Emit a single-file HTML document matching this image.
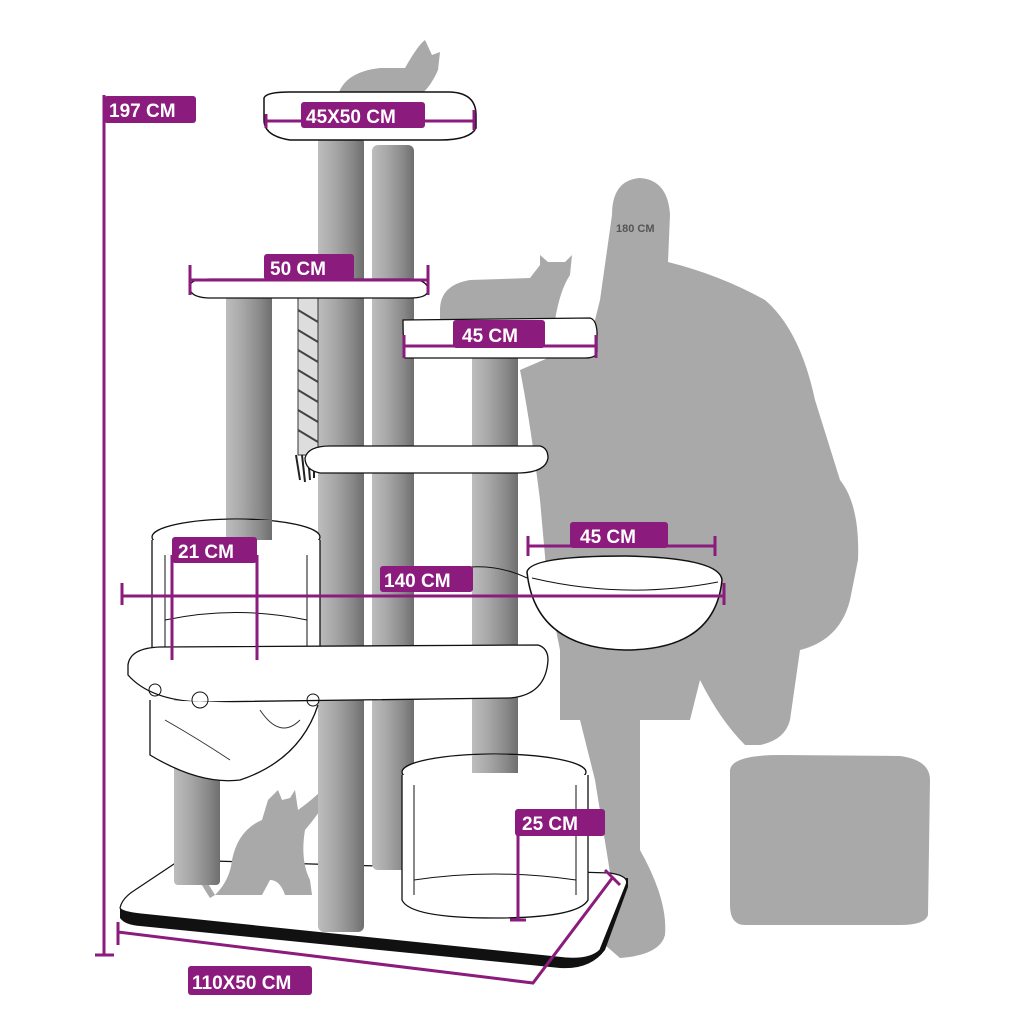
<!DOCTYPE html>
<html><head><meta charset="utf-8"><style>
html,body{margin:0;padding:0;background:#fff}
svg{display:block}
text{font-family:"Liberation Sans",sans-serif;font-weight:bold}
</style></head><body>
<svg width="1025" height="1025" viewBox="0 0 1025 1025" xmlns="http://www.w3.org/2000/svg">
<defs>
<linearGradient id="pg" x1="0" x2="1" y1="0" y2="0">
<stop offset="0" stop-color="#bdbdbd"/><stop offset="0.35" stop-color="#a8a8a8"/><stop offset="0.75" stop-color="#888"/><stop offset="1" stop-color="#6e6e6e"/>
</linearGradient>
</defs>
<g fill="#a9a9a9">
<path d="M612,215 Q612,180 640,178 Q668,180 670,215 L668,262 Q720,275 765,300 Q800,330 815,400 L840,480 Q860,505 858,560 L850,600 Q840,640 800,650 L790,720 Q785,740 760,745 L745,745 Q720,720 700,680 L690,720 L640,720 L640,770 L640,850 Q668,900 665,935 Q660,955 620,958 L605,945 Q615,900 608,860 L595,780 L580,720 L560,720 L560,650 L548,590 L540,500 Q530,420 520,370 L590,340 L600,300 Z"/>
<path d="M730,770 Q732,755 780,755 L900,756 Q930,760 930,780 L928,915 Q925,925 900,925 L745,925 Q730,925 730,905 Z"/>
<path d="M338,95 Q345,72 380,68 L405,68 Q418,45 425,40 L432,55 L440,52 L438,70 Q430,88 420,95 Z"/>
<path d="M440,310 Q440,285 470,280 L530,278 L540,265 L540,255 L548,262 L565,262 L572,255 L570,275 Q560,290 555,320 L440,320 Z"/>
</g>
<text x="616" y="232" font-size="11" fill="#555">180 CM</text>
<!-- base -->
<path d="M120,908 L120,918 Q125,925 140,926 L560,968 Q590,970 605,950 L628,887 L628,878 Z" fill="#111"/>
<path d="M120,908 Q122,898 135,890 L180,860 L610,873 Q630,876 626,885 L600,950 Q590,960 565,958 L140,914 Q122,912 120,908 Z" fill="#fff" stroke="#111" stroke-width="1.2"/>
<!-- bottom cat -->
<g fill="#a9a9a9">
<path d="M215,895 Q230,880 232,860 Q238,830 262,820 L268,800 L278,790 L282,800 L290,798 L295,790 L298,810 Q312,800 322,790 L330,795 Q318,815 305,830 Q300,860 310,880 L312,895 L285,895 Q280,880 270,880 L262,895 Z"/>
<path d="M180,840 Q200,870 215,895 L210,898 Q192,870 178,842 Z"/>
</g>
<!-- posts -->
<rect x="174" y="690" width="46" height="195" rx="4" fill="url(#pg)"/>
<rect x="226" y="295" width="46" height="245" fill="url(#pg)"/>
<rect x="372" y="145" width="42" height="725" rx="6" fill="url(#pg)"/>
<rect x="472" y="355" width="46" height="435" fill="url(#pg)"/>
<rect x="318" y="137" width="46" height="795" rx="6" fill="url(#pg)"/>
<!-- rope -->
<path d="M298,298 L318,298 L318,455 L298,455 Z" fill="#ddd" stroke="#333" stroke-width="1"/>
<path d="M298,310 L318,322 M298,330 L318,342 M298,350 L318,362 M298,370 L318,382 M298,390 L318,402 M298,410 L318,422 M298,430 L318,442" stroke="#444" stroke-width="2"/>
<path d="M296,455 L300,480 M302,455 L305,482 M308,455 L310,480 M314,455 L314,478" stroke="#222" stroke-width="2"/>
<path d="M264,98 Q266,92 290,92 L450,92 Q476,93 476,115 L476,128 Q470,140 440,140 L290,140 Q264,136 264,120 Z" fill="#fff" stroke="#111" stroke-width="1.5"/>
<path d="M190,285 Q192,279 210,279 L410,279 Q428,280 428,290 Q428,298 410,298 L208,298 Q190,297 190,288 Z" fill="#fff" stroke="#111" stroke-width="1.3"/>
<path d="M403,320 L590,318 Q598,320 597,340 L597,352 Q596,358 585,358 L405,358 Q403,340 403,320 Z" fill="#fff" stroke="#111" stroke-width="1.3"/>
<path d="M305,458 Q308,446 330,446 L540,446 Q548,448 548,458 Q546,472 520,473 L320,473 Q305,470 305,458 Z" fill="#fff" stroke="#111" stroke-width="1.3"/>
<ellipse cx="236" cy="537" rx="84" ry="18" fill="#fff" stroke="#111" stroke-width="1.3"/>
<path d="M152,540 L152,650 Q160,668 236,668 Q312,668 320,650 L320,540" fill="#fff" stroke="#111" stroke-width="1.3"/>
<rect x="226" y="520" width="46" height="20" fill="url(#pg)"/>
<path d="M165,620 Q236,605 307,620" fill="none" stroke="#111"/>
<path d="M165,555 L165,650 M307,555 L307,650" stroke="#111"/>
<path d="M128,665 Q130,648 160,647 L538,645 Q548,648 548,660 Q546,695 510,698 L200,702 Q150,700 128,675 Z" fill="#fff" stroke="#111" stroke-width="1.3"/>
<path d="M150,700 L150,755 Q200,785 240,780 Q300,760 318,705" fill="#fff" stroke="#111" stroke-width="1.3"/>
<circle cx="155" cy="690" r="6" fill="none" stroke="#111"/><circle cx="200" cy="700" r="8" fill="none" stroke="#111"/><circle cx="313" cy="700" r="6" fill="none" stroke="#111"/>
<path d="M165,720 Q200,740 230,760 M260,710 Q280,740 300,720" fill="none" stroke="#333"/>
<ellipse cx="494" cy="772" rx="92" ry="18" fill="#fff" stroke="#111" stroke-width="1.3"/>
<path d="M402,775 L402,900 Q410,918 494,918 Q578,918 588,900 L588,775" fill="#fff" stroke="#111" stroke-width="1.3"/>
<rect x="472" y="755" width="46" height="18" fill="url(#pg)"/>
<path d="M414,785 L414,895 M576,785 L576,895 M414,880 Q494,868 576,880" fill="none" stroke="#111"/>
<path d="M527,572 Q530,556 625,556 Q720,558 722,580 Q715,650 625,650 Q535,648 527,572 Z" fill="#fff" stroke="#111" stroke-width="1.5"/>
<path d="M532,578 Q625,600 718,582" fill="none" stroke="#111"/>
<path d="M470,567 Q500,565 527,578" fill="none" stroke="#111"/>
<g stroke="#8b1b7c" stroke-width="3" fill="none">
<path d="M104,95 L104,955 M95,955 L114,955"/>
<path d="M266,114 L266,128 M266,121 L474,121 M474,110 L474,130"/>
<path d="M190,265 L190,295 M190,280 L428,280 M428,265 L428,295"/>
<path d="M404,335 L404,358 M404,346 L596,346 M596,335 L596,358"/>
<path d="M528,536 L528,556 M528,546 L715,546 M715,536 L715,556"/>
<path d="M172,555 L172,660 M257,555 L257,660"/>
<path d="M122,583 L122,605 M122,596 L724,596 M724,583 L724,605"/>
<path d="M518,820 L518,920 M510,920 L526,920"/>
<path d="M118,922 L118,945 M118,932 L533,983 L613,877 M605,870 L620,885"/>
</g>
<g fill="#8b1b7c">
<rect x="104" y="96" width="92" height="27" rx="3"/>
<rect x="301" y="102" width="124" height="26" rx="3"/>
<rect x="264" y="254" width="90" height="26" rx="3"/>
<rect x="453" y="320" width="92" height="28" rx="3"/>
<rect x="570" y="522" width="98" height="26" rx="3"/>
<rect x="172" y="537" width="85" height="26" rx="3"/>
<rect x="380" y="566" width="93" height="26" rx="3"/>
<rect x="515" y="809" width="90" height="27" rx="3"/>
<rect x="188" y="966" width="124" height="29" rx="3"/>
</g>
<g fill="#fff" font-size="19">
<text x="109" y="117">197 CM</text>
<text x="306" y="123">45X50 CM</text>
<text x="270" y="275">50 CM</text>
<text x="462" y="342">45 CM</text>
<text x="580" y="543">45 CM</text>
<text x="178" y="558">21 CM</text>
<text x="384" y="587">140 CM</text>
<text x="522" y="830">25 CM</text>
<text x="192" y="989">110X50 CM</text>
</g>
</svg>
</body></html>
